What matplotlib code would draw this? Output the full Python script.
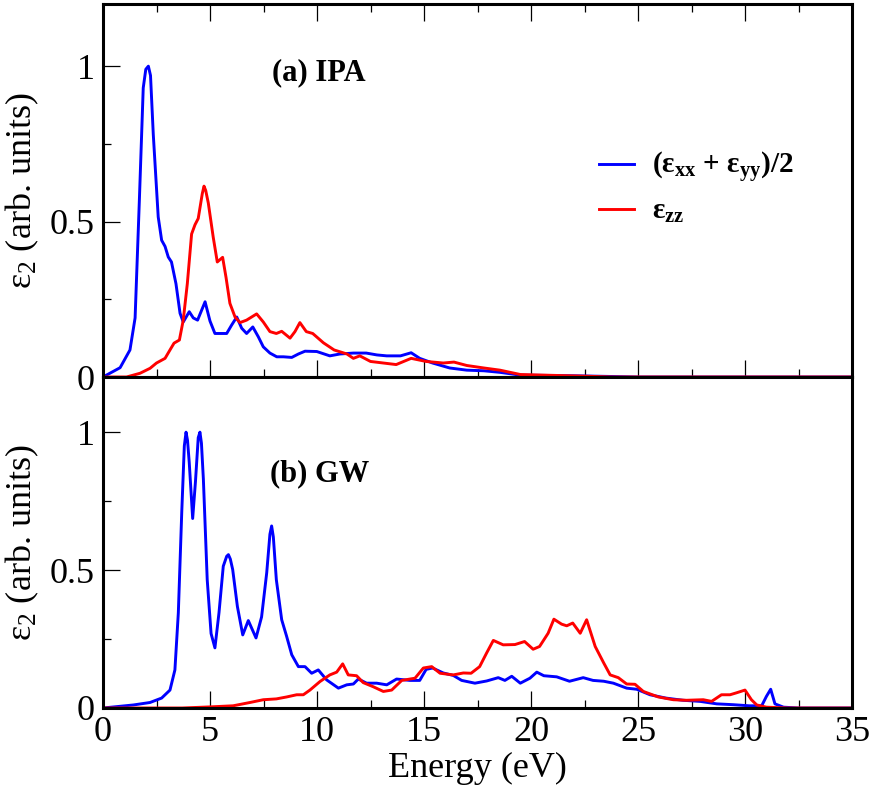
import matplotlib
matplotlib.use("Agg")
import matplotlib.pyplot as plt
from matplotlib.ticker import MultipleLocator

plt.rcParams['font.family'] = ['Liberation Serif', 'DejaVu Serif']
plt.rcParams['mathtext.fontset'] = 'custom'
plt.rcParams['mathtext.rm'] = 'Liberation Serif'
plt.rcParams['mathtext.it'] = 'Liberation Serif:italic'
plt.rcParams['mathtext.bf'] = 'Liberation Serif:bold'
plt.rcParams['mathtext.default'] = 'regular'

# ---------------- data ----------------
# (a) IPA, in-plane (eps_xx+eps_yy)/2
ipa_xy_E = [0.0, 0.8, 1.26, 1.5, 1.7, 1.88, 2.0, 2.12, 2.22, 2.35, 2.58, 2.74, 2.9, 3.05, 3.2, 3.41, 3.6,
            3.75, 4.03, 4.22, 4.42, 4.77, 5.0, 5.23, 5.47, 5.78, 6.01, 6.25, 6.48, 6.71, 7.0,
            7.26, 7.49, 7.8, 8.12, 8.43, 8.82, 9.13, 9.44, 9.99, 10.6, 11.07, 11.7, 12.3,
            12.8, 13.26, 13.9, 14.4, 14.8, 15.4, 16.2, 17.0, 17.8, 18.55, 19.5, 22.0, 25.0, 35.0]
ipa_xy_V = [0.0, 0.03, 0.087, 0.19, 0.57, 0.93, 0.99, 1.0, 0.97, 0.78, 0.515, 0.44, 0.42, 0.386, 0.37, 0.30, 0.205,
            0.177, 0.21, 0.19, 0.183, 0.242, 0.18, 0.14, 0.14, 0.14, 0.167, 0.193, 0.157, 0.14, 0.161,
            0.129, 0.097, 0.077, 0.065, 0.065, 0.063, 0.074, 0.083, 0.082, 0.068, 0.074, 0.077, 0.077,
            0.071, 0.068, 0.068, 0.078, 0.06, 0.045, 0.029, 0.022, 0.02, 0.015, 0.006, 0.004, 0.0, 0.0]

# (a) IPA, out-of-plane eps_zz
ipa_zz_E = [0.0, 1.1, 1.73, 2.2, 2.5, 2.9, 3.13, 3.32, 3.57, 3.75, 3.94, 4.14, 4.3, 4.45, 4.64, 4.72,
            4.8, 4.92, 5.15, 5.34, 5.59, 5.75, 5.93, 6.17, 6.4, 6.71, 7.18, 7.49, 7.8, 8.1, 8.35,
            8.74, 8.97, 9.2, 9.5, 9.8, 10.3, 10.8, 11.4, 11.7, 12.0, 12.5, 13.1, 13.7, 14.4,
            15.1, 15.9, 16.4, 17.0, 17.8, 18.55, 19.5, 22.3, 23.8, 35.0]
ipa_zz_V = [0.0, 0.0, 0.012, 0.028, 0.045, 0.06, 0.087, 0.109, 0.119, 0.183, 0.30, 0.46, 0.49, 0.51, 0.59, 0.614,
            0.60, 0.56, 0.45, 0.37, 0.385, 0.32, 0.237, 0.193, 0.175, 0.183, 0.203, 0.177, 0.146, 0.14, 0.147,
            0.125, 0.146, 0.175, 0.146, 0.14, 0.11, 0.087, 0.074, 0.06, 0.068, 0.05, 0.045, 0.04, 0.06,
            0.05, 0.045, 0.048, 0.037, 0.029, 0.022, 0.008, 0.003, 0.0, 0.0]

# (b) GW, in-plane (eps_xx+eps_yy)/2
gw_xy_E = [0.0, 1.42, 2.2, 2.74, 3.13, 3.36, 3.52, 3.68, 3.8, 3.88, 3.95, 4.03, 4.19, 4.32, 4.45, 4.53,
           4.6, 4.69, 4.87, 5.05, 5.23, 5.42, 5.62, 5.78, 5.86, 5.95, 6.06, 6.28, 6.53, 6.79, 7.15,
           7.41, 7.65, 7.8, 7.88, 7.96, 8.1, 8.35, 8.58, 8.82, 9.13, 9.44, 9.75, 10.06, 10.45, 11.0,
           11.39, 11.7, 11.93, 12.32, 12.79, 13.26, 13.72, 14.35, 14.8, 15.1, 15.4, 15.9, 16.37,
           16.76, 17.38, 17.93, 18.47, 18.78, 19.1, 19.5, 19.95, 20.27, 20.6, 21.2, 21.8, 22.44,
           22.9, 23.4, 23.85, 24.47, 24.94, 25.56, 26.3, 27.1, 27.9, 28.68, 29.45, 30.2, 30.78,
           31.0, 31.2, 31.4, 31.8, 32.5, 35.0]
gw_xy_V = [0.0, 0.011, 0.02, 0.036, 0.065, 0.138, 0.345, 0.71, 0.95, 1.0, 0.97, 0.89, 0.687, 0.82, 0.98, 1.0,
           0.96, 0.83, 0.465, 0.27, 0.218, 0.345, 0.514, 0.55, 0.556, 0.54, 0.502, 0.368, 0.265, 0.317, 0.254,
           0.33, 0.49, 0.63, 0.66, 0.62, 0.465, 0.32, 0.26, 0.193, 0.15, 0.15, 0.126, 0.138, 0.102, 0.072,
           0.084, 0.087, 0.105, 0.09, 0.09, 0.084, 0.105, 0.10, 0.10, 0.14, 0.145, 0.127, 0.118,
           0.10, 0.09, 0.098, 0.11, 0.10, 0.115, 0.09, 0.108, 0.13, 0.117, 0.113, 0.097, 0.11,
           0.10, 0.097, 0.09, 0.072, 0.068, 0.048, 0.036, 0.028, 0.024, 0.015, 0.012, 0.008, 0.008,
           0.042, 0.068, 0.015, 0.003, 0.0, 0.0]

# (b) GW, out-of-plane eps_zz
gw_zz_E = [0.0, 3.7, 5.0, 6.08, 6.87, 7.49, 8.1, 8.58, 9.05, 9.36, 9.67, 10.14, 10.6, 10.92, 11.2,
           11.46, 11.85, 12.16, 12.63, 13.1, 13.49, 13.96, 14.58, 14.97, 15.36, 15.75, 16.37,
           16.84, 17.2, 17.6, 17.93, 18.24, 18.7, 19.25, 19.7, 20.1, 20.4, 20.8, 21.07, 21.43,
           21.67, 21.95, 22.3, 22.6, 23.0, 23.4, 23.7, 24.08, 24.47, 24.86, 25.25, 25.95, 26.65,
           27.27, 28.05, 28.44, 28.9, 29.3, 29.6, 30.0, 30.3, 30.55, 31.0, 32.0, 35.0]
gw_zz_V = [0.0, 0.0, 0.004, 0.008, 0.02, 0.03, 0.033, 0.04, 0.048, 0.048, 0.065, 0.096, 0.12, 0.13, 0.16,
           0.12, 0.117, 0.092, 0.077, 0.06, 0.065, 0.10, 0.108, 0.145, 0.15, 0.126, 0.12,
           0.127, 0.126, 0.15, 0.2, 0.245, 0.229, 0.23, 0.241, 0.213, 0.223, 0.271, 0.322, 0.304,
           0.298, 0.308, 0.271, 0.32, 0.223, 0.163, 0.12, 0.11, 0.087, 0.086, 0.06, 0.04, 0.03,
           0.028, 0.03, 0.024, 0.048, 0.048, 0.055, 0.065, 0.03, 0.011, 0.003, 0.0, 0.0]

legend_labels = ['(ε$_{\\mathbf{xx}}$ + ε$_{\\mathbf{yy}}$)/2', 'ε$_{\\mathbf{zz}}$']
panel_titles = ['(a) IPA', '(b) GW']
ylabel_text = 'ε$_2$ (arb. units)'
xlabel_text = 'Energy (eV)'

# ---------------- figure ----------------
fig = plt.figure(figsize=(8.72, 7.87), dpi=100)
left, width = 103 / 872, (852 - 103) / 872
ax_top = fig.add_axes([left, (787 - 377) / 787, width, (377 - 4) / 787])
ax_bot = fig.add_axes([left, (787 - 708) / 787, width, (708 - 377) / 787])

blue = '#0000ff'
red = '#ff0000'
lw = 2.1

ax_top.plot(ipa_xy_E, ipa_xy_V, color=blue, lw=lw, label=legend_labels[0], solid_joinstyle='round')
ax_top.plot(ipa_zz_E, ipa_zz_V, color=red, lw=lw, label=legend_labels[1], solid_joinstyle='round')
ax_bot.plot(gw_xy_E, gw_xy_V, color=blue, lw=lw, solid_joinstyle='round')
ax_bot.plot(gw_zz_E, gw_zz_V, color=red, lw=lw, solid_joinstyle='round')

for ax in (ax_top, ax_bot):
    ax.set_xlim(0, 35)
    ax.set_ylim(0, 1.2)
    ax.xaxis.set_major_locator(MultipleLocator(5))
    ax.xaxis.set_minor_locator(MultipleLocator(2.5))
    ax.yaxis.set_major_locator(MultipleLocator(0.5))
    ax.yaxis.set_minor_locator(MultipleLocator(0.25))
    ax.set_yticks([0, 0.5, 1])
    ax.set_yticklabels(['0', '0.5', '1'])
    for s in ax.spines.values():
        s.set_linewidth(2.2)
    ax.tick_params(axis='both', which='major', direction='in', length=12, width=0.9,
                   labelsize=26, pad=6)
    ax.tick_params(axis='both', which='minor', direction='in', length=5.5, width=0.9)
    ax.tick_params(axis='y', which='both', right=False)
    ax.set_ylabel(ylabel_text, fontsize=26, labelpad=6)

ax_top.tick_params(axis='x', which='both', top=True, bottom=True, labelbottom=False)
ax_bot.tick_params(axis='x', which='both', top=False, bottom=True)
ax_bot.set_xticks([0, 5, 10, 15, 20, 25, 30, 35])
ax_bot.set_xticklabels(['0', '5', '10', '15', '20', '25', '30', '35'])
ax_bot.set_xlabel(xlabel_text, fontsize=26, labelpad=2)

ax_top.text(10.1, 0.98, panel_titles[0], fontsize=22, fontweight='bold', ha='center', va='center')
ax_bot.text(10.1, 0.85, panel_titles[1], fontsize=22, fontweight='bold', ha='center', va='center')

leg = ax_top.legend(loc='upper left', bbox_to_anchor=(0.646, 0.64), frameon=False,
                    prop={'family': 'Liberation Serif', 'weight': 'bold', 'size': 21},
                    handlelength=1.2, handletextpad=0.65, labelspacing=0.45, borderaxespad=0.0)

fig.savefig('out.png', dpi=100)
